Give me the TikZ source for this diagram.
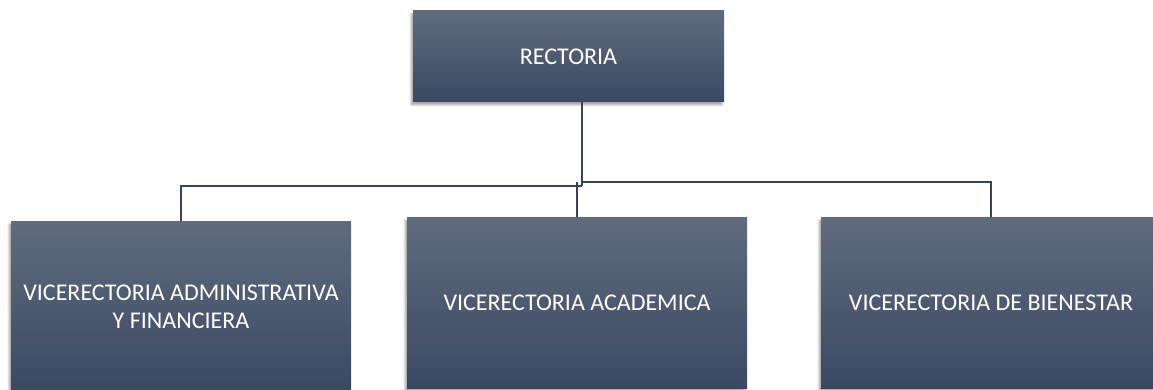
\documentclass[tikz,border=0pt]{standalone}
\usepackage{fontspec}
\setmainfont{Carlito}
\usetikzlibrary{shadows.blur}
\definecolor{boxtop}{RGB}{96,107,126}
\definecolor{boxbot}{RGB}{58,73,99}
\definecolor{linec}{RGB}{54,67,90}
\tikzset{
  orgbox/.style={rectangle, top color=boxtop, bottom color=boxbot, draw=none,
    text=white, font=\fontsize{24}{28}\selectfont, align=center, inner sep=0pt,
    blur shadow={shadow xshift=-2pt, shadow yshift=-3pt, shadow blur steps=6, shadow opacity=35}},
  conn/.style={draw=linec, line width=2.6pt}
}
\begin{document}
\begin{tikzpicture}[x=1pt,y=1pt]
\useasboundingbox (0,0) rectangle (1153,-390);
\clip (0,0) rectangle (1153,-390);
\node[orgbox, minimum width=311pt, minimum height=91pt] (rect) at (568.5,-56.5) {RECTORIA};
\node[orgbox, minimum width=340pt, minimum height=171pt] (left) at (181,-306.5) {VICERECTORIA ADMINISTRATIVA\\Y FINANCIERA};
\node[orgbox, minimum width=340pt, minimum height=171pt] (mid) at (577,-302.5) {VICERECTORIA ACADEMICA};
\node[orgbox, minimum width=340pt, minimum height=171pt] (right) at (991,-302.5) {VICERECTORIA DE BIENESTAR};
\coordinate (jl) at (582,-186);
\coordinate (jr) at (582,-182);
\draw[conn] (rect.south -| jr) -- (jl);
\draw[conn] (jl) -| (left.north);
\draw[conn] (jr -| mid.north) -- (mid.north);
\draw[conn] (jr) -| (right.north);
\end{tikzpicture}
\end{document}
